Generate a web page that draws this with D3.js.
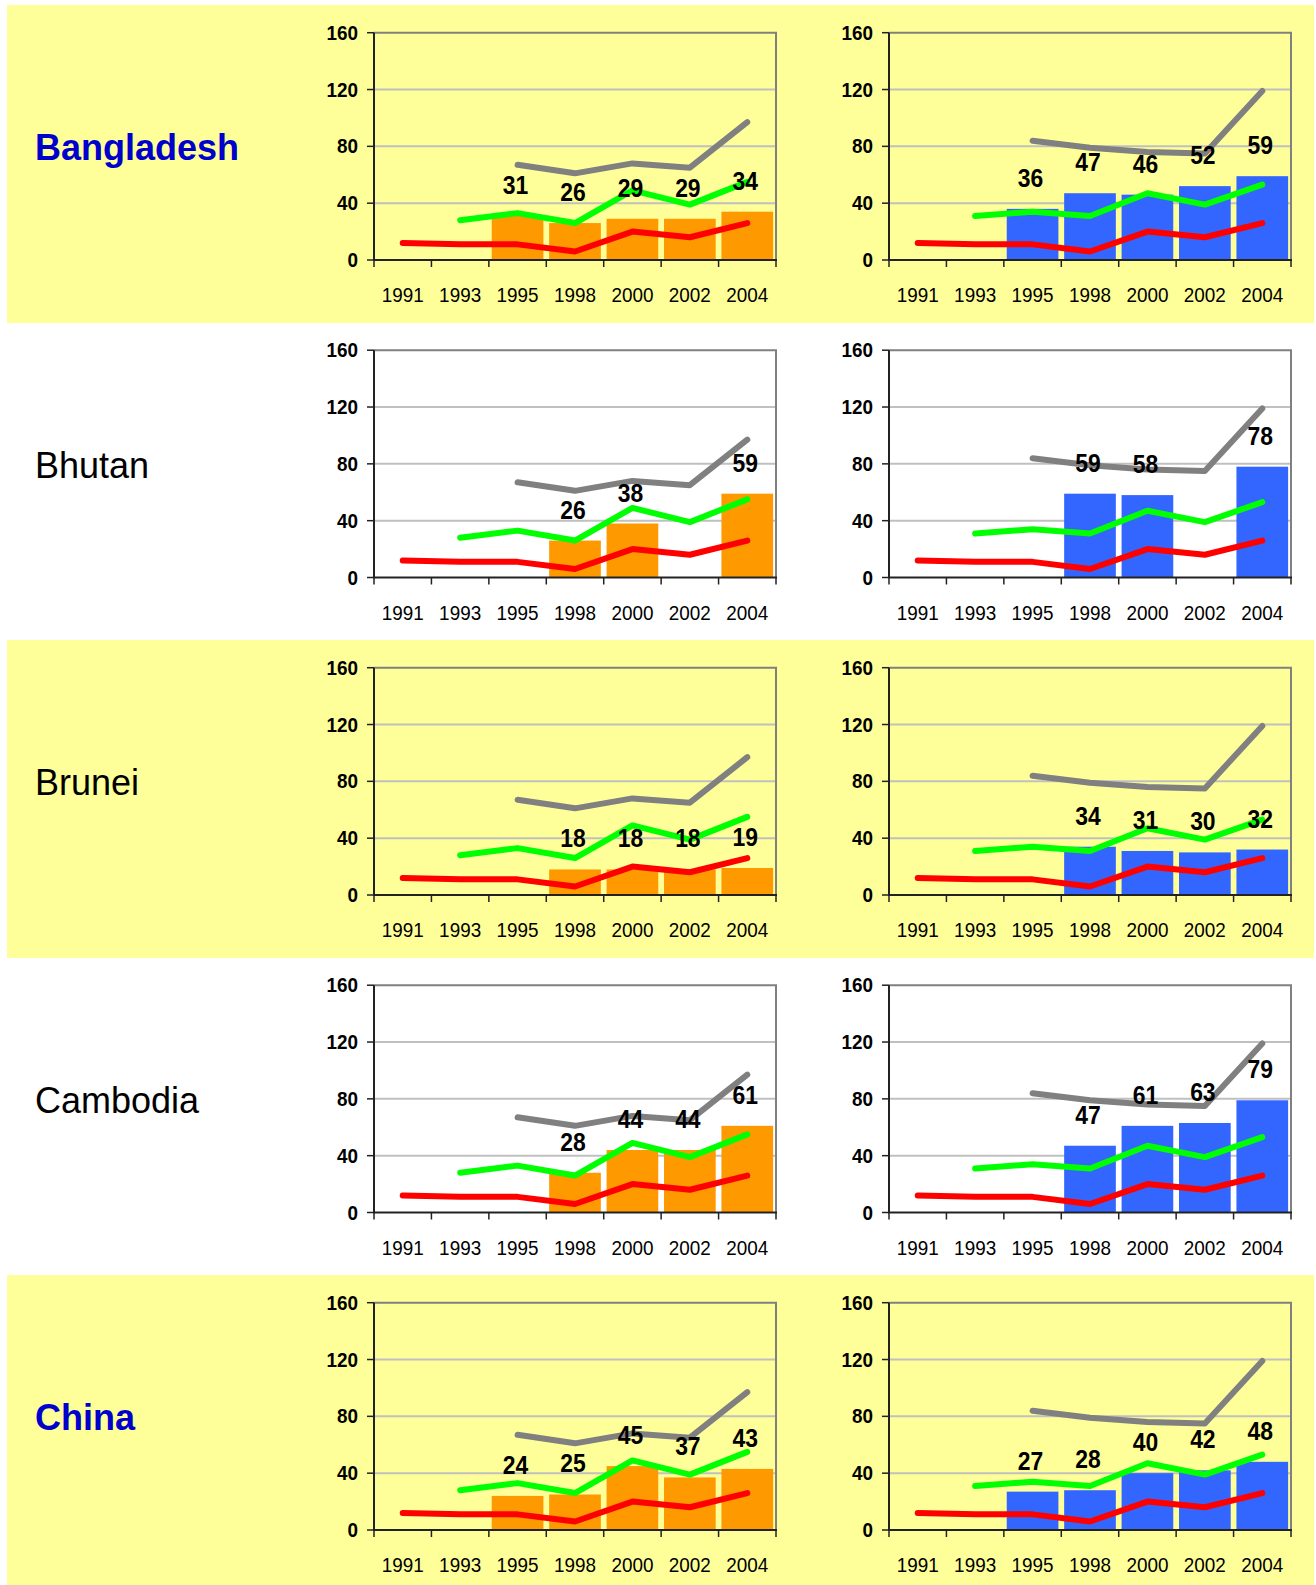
<!DOCTYPE html>
<html>
<head>
<meta charset="utf-8">
<script src="https://cdn.jsdelivr.net/npm/d3@7"></script>
<style>
  body { margin: 0; background: #fff; }
  svg { display: block; }
  text { font-family: "Liberation Sans", Arial, sans-serif; }
</style>
</head>
<body>
<svg id="chart" width="1316" height="1585"></svg>
<script>

// ---- data ----
var years = ["1991", "1993", "1995", "1998", "2000", "2002", "2004"];
var countries = ["Bangladesh", "Bhutan", "Brunei", "Cambodia", "China"];
var highlighted = ["Bangladesh", "China"];

var leftRed   = [12, 11, 11, 6, 20, 16, 26];
var leftGreen = [null, 28, 33, 26, 49, 39, 55];
var leftGray  = [null, null, 67, 61, 68, 65, 97];

var rightRed   = [12, 11, 11, 6, 20, 16, 26];
var rightGreen = [null, 31, 34, 31, 47, 39, 53];
var rightGray  = [null, null, 84, 79, 76, 75, 119];

// bar values per country, aligned with years (null = no bar)
var leftBars = [
    [null, null, 31, 26, 29, 29, 34],
    [null, null, null, 26, 38, null, 59],
    [null, null, null, 18, 18, 18, 19],
    [null, null, null, 28, 44, 44, 61],
    [null, null, 24, 25, 45, 37, 43]
];
var rightBars = [
    [null, null, 36, 47, 46, 52, 59],
    [null, null, null, 59, 58, null, 78],
    [null, null, null, 34, 31, 30, 32],
    [null, null, null, 47, 61, 63, 79],
    [null, null, 27, 28, 40, 42, 48]
];

var yTicks = [0, 40, 80, 120, 160];

// ---- drawing ----
var svg = d3.select("#chart");

function rowTop(i) { return 5 + 317.5 * i; }

// condensed text helper (the source fonts are a bit narrow)
function label(g, x, y, txt, size, weight, anchor, sx) {
    return g.append("text")
        .attr("transform", "translate(" + x + "," + y + ") scale(" + sx + ",1)")
        .attr("text-anchor", anchor)
        .style("font-size", size + "px")
        .style("font-weight", weight)
        .style("fill", "#000")
        .text(txt);
}

function drawChart(g, x0, x1, top, bars, barColor, red, green, gray) {

    var bottom = top + 227.3;

    var x = d3.scaleBand()
        .domain(years)
        .range([x0, x1])
        .paddingInner(0.1)
        .paddingOuter(0.05);

    var y = d3.scaleLinear()
        .domain([0, 160])
        .range([bottom, top]);

    var step = x.step();
    var cx = function (d) { return x(d) + x.bandwidth() / 2; };

    // gridlines
    g.selectAll(".grid")
        .data([40, 80, 120])
        .enter()
        .append("line")
        .attr("x1", x0).attr("x2", x1)
        .attr("y1", function (d) { return y(d); })
        .attr("y2", function (d) { return y(d); })
        .style("stroke", "#c0c0c0")
        .style("stroke-width", 2);

    // top and right border
    g.append("path")
        .attr("d", "M" + x0 + "," + y(160) + "H" + x1 + "V" + y(0))
        .style("fill", "none")
        .style("stroke", "#808080")
        .style("stroke-width", 2);

    // bars
    var barData = years.map(function (yr, i) { return {year: yr, v: bars[i]}; })
        .filter(function (d) { return d.v != null; });

    g.selectAll(".bar")
        .data(barData)
        .enter()
        .append("rect")
        .attr("x", function (d) { return x(d.year); })
        .attr("width", x.bandwidth())
        .attr("y", function (d) { return y(d.v); })
        .attr("height", function (d) { return y(0) - y(d.v); })
        .style("fill", barColor);

    // lines
    function series(vals) {
        return years.map(function (yr, i) { return {year: yr, v: vals[i]}; })
            .filter(function (d) { return d.v != null; });
    }

    var line = d3.line()
        .x(function (d) { return cx(d.year); })
        .y(function (d) { return y(d.v); });

    [[gray, "#808080"], [green, "#00ff00"], [red, "#ff0000"]].forEach(function (s) {
        g.append("path")
            .datum(series(s[0]))
            .attr("d", line)
            .style("fill", "none")
            .style("stroke", s[1])
            .style("stroke-width", 6)
            .style("stroke-linecap", "round")
            .style("stroke-linejoin", "round");
    });

    // axes
    g.append("line")
        .attr("x1", x0).attr("x2", x0)
        .attr("y1", y(160)).attr("y2", y(0))
        .style("stroke", "#222").style("stroke-width", 2);

    g.append("line")
        .attr("x1", x0 - 1).attr("x2", x1 + 1)
        .attr("y1", y(0)).attr("y2", y(0))
        .style("stroke", "#222").style("stroke-width", 2);

    yTicks.forEach(function (t) {
        g.append("line")
            .attr("x1", x0 - 7).attr("x2", x0)
            .attr("y1", y(t)).attr("y2", y(t))
            .style("stroke", "#222").style("stroke-width", 1.5);
        label(g, x0 - 16, y(t) + 7, t, 21, "bold", "end", 0.9);
    });

    d3.range(years.length + 1).forEach(function (i) {
        var tx = x0 + i * step;
        g.append("line")
            .attr("x1", tx).attr("x2", tx)
            .attr("y1", y(0)).attr("y2", y(0) + 7)
            .style("stroke", "#222").style("stroke-width", 1.5);
    });

    years.forEach(function (yr) {
        label(g, cx(yr), bottom + 42, yr, 21, "normal", "middle", 0.9);
    });

    // bar value labels
    barData.forEach(function (d) {
        label(g, cx(d.year) - 2, y(d.v) - 22, d.v, 26, "bold", "middle", 0.88);
    });
}

countries.forEach(function (name, i) {

    var top = rowTop(i);
    var g = svg.append("g");

    if (i % 2 === 0) {
        g.append("rect")
            .attr("x", 7).attr("y", top)
            .attr("width", 1307).attr("height", 318)
            .style("fill", "#ffff99");
    }

    var hi = highlighted.indexOf(name) >= 0;
    g.append("text")
        .attr("x", 35)
        .attr("y", top + 155)
        .style("font-size", "36px")
        .style("font-weight", hi ? "bold" : "normal")
        .style("fill", hi ? "#0000cc" : "#000")
        .text(name);

    drawChart(g, 374, 776, top + 27.7, leftBars[i], "#ff9900", leftRed, leftGreen, leftGray);
    drawChart(g, 889, 1291, top + 27.7, rightBars[i], "#3366ff", rightRed, rightGreen, rightGray);
});

</script>
</body>
</html>
